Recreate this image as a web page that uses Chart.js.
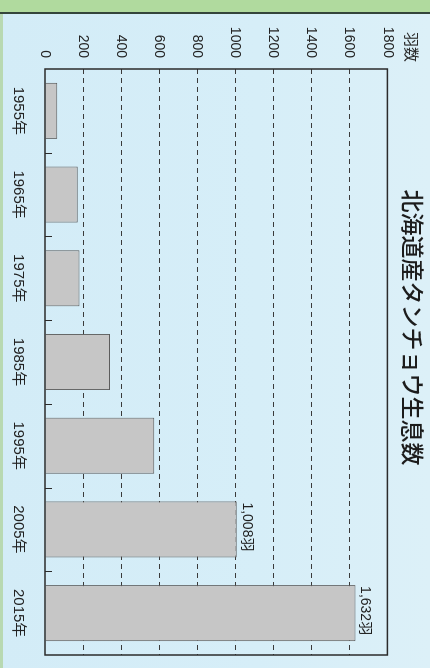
<!DOCTYPE html>
<html lang="ja">
<head>
<meta charset="utf-8">
<script src="https://cdn.jsdelivr.net/npm/chart.js@4.4.1/dist/chart.umd.min.js"></script>
<style>
html, body { margin: 0; padding: 0; }
body { width: 430px; height: 668px; overflow: hidden; position: relative;
       background: linear-gradient(90deg, #d3ecf7 0%, #d6eef8 60%, #dcf0f8 100%); }
.band { position: absolute; left: 0; top: 0; width: 430px; height: 12px; background: #b0da9e; border-bottom: 2px solid #34453b; z-index: 2; }
.edge { position: absolute; left: 0; top: 14px; width: 3px; height: 654px; background: #b8d9b2; z-index: 2; }
.turn { position: absolute; left: 0; top: 0; width: 668px; height: 430px; transform-origin: 0 0; transform: translate(430px, 0) rotate(90deg); }
</style>
</head>
<body>
<div class="band"></div>
<div class="edge"></div>
<div class="turn"><canvas id="myChart" width="668" height="430"></canvas></div>
<script>
// data
const years = ['1955年', '1965年', '1975年', '1985年', '1995年', '2005年', '2015年'];
const birds = [65, 172, 182, 342, 574, 1008, 1632];
const barLabels = ['', '', '', '', '', '1,008羽', '1,632羽'];
const valueMin = 0;
const valueMax = 1800;
const valueStep = 200;
const unitText = '羽数';
const titleText = '北海道産タンチョウ生息数';

const fontFamily = "'Liberation Sans', 'Noto Sans CJK JP', sans-serif";

// frame round the plot + small inward ticks between years
const framePlugin = {
    id: 'frame',
    afterDatasetsDraw(chart) {
        const ctx = chart.ctx;
        const area = chart.chartArea;
        const x = chart.scales.x;
        ctx.save();
        ctx.strokeStyle = '#2b2b2b';
        ctx.lineWidth = 1.5;
        ctx.strokeRect(area.left, area.top, area.right - area.left, area.bottom - area.top);
        ctx.lineWidth = 1;
        for (let i = 0; i < years.length - 1; i++) {
            const u = Math.round((x.getPixelForValue(i) + x.getPixelForValue(i + 1)) / 2) + 0.5;
            ctx.beginPath();
            ctx.moveTo(u, area.bottom);
            ctx.lineTo(u, area.bottom - 7);
            ctx.stroke();
        }
        ctx.restore();
    }
};

// value text over the last bars
const barTextPlugin = {
    id: 'barText',
    afterDatasetsDraw(chart) {
        const ctx = chart.ctx;
        const bars = chart.getDatasetMeta(0).data;
        ctx.save();
        ctx.fillStyle = '#1e1e1e';
        ctx.font = '14px ' + fontFamily;
        ctx.textAlign = 'left';
        ctx.textBaseline = 'alphabetic';
        bars.forEach(function (bar, i) {
            if (!barLabels[i]) return;
            ctx.fillText(barLabels[i], bar.x - bar.width / 2 + 1, bar.y - 6);
        });
        ctx.restore();
    }
};

// "羽数" above the value labels
const unitPlugin = {
    id: 'unit',
    afterDraw(chart) {
        const ctx = chart.ctx;
        const y = chart.scales.y;
        ctx.save();
        ctx.fillStyle = '#2a2a2a';
        ctx.font = '15px ' + fontFamily;
        ctx.textAlign = 'right';
        ctx.textBaseline = 'middle';
        ctx.fillText(unitText, y.right - 7, chart.chartArea.top - 23);
        ctx.restore();
    }
};

const ctx = document.getElementById('myChart').getContext('2d');

const chart = new Chart(ctx, {
    type: 'bar',
    data: {
        labels: years,
        datasets: [{
            data: birds,
            backgroundColor: '#c6c6c6',
            borderColor: '#5c5c5c',
            borderWidth: 1,
            categoryPercentage: 1,
            barPercentage: 0.67
        }]
    },
    options: {
        responsive: false,
        animation: false,
        layout: { padding: { left: 0, right: 13, top: 0, bottom: 0 } },
        plugins: {
            legend: { display: false },
            tooltip: { enabled: false },
            title: {
                display: true,
                text: titleText,
                color: '#1c1c1c',
                font: { family: "'Noto Sans CJK JP', sans-serif", size: 23, weight: '500' },
                padding: { top: 3, bottom: 12 }
            }
        },
        scales: {
            x: {
                grid: { display: false },
                border: { display: false },
                ticks: {
                    color: '#222',
                    font: { family: fontFamily, size: 15 },
                    padding: 10,
                    maxRotation: 0,
                    autoSkip: false
                },
                afterFit: function (scale) { scale.height = 45; }
            },
            y: {
                min: valueMin,
                max: valueMax,
                grid: {
                    drawTicks: false,
                    lineWidth: 1,
                    color: function (c) {
                        return (c.tick.value === valueMin || c.tick.value === valueMax) ? 'rgba(0,0,0,0)' : '#3a3a3a';
                    },
                    borderDash: [5, 4]
                },
                border: { display: false, dash: [5, 4] },
                ticks: {
                    stepSize: valueStep,
                    color: '#222',
                    font: { family: fontFamily, size: 14 },
                    padding: 11,
                    callback: function (v) { return String(v); }
                },
                afterFit: function (scale) { scale.width = 69; }
            }
        }
    },
    plugins: [framePlugin, barTextPlugin, unitPlugin]
});
</script>
</body>
</html>
